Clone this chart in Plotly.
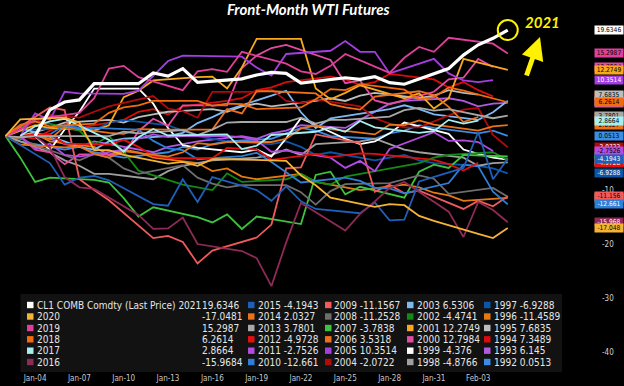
import pandas as pd
import plotly.graph_objects as go

# ---------------- data ----------------
years = [2021, 2020, 2019, 2018, 2017, 2016, 2015, 2014, 2013, 2012, 2011, 2010,
         2009, 2008, 2007, 2006, 2005, 2004, 2003, 2002, 2001, 2000, 1999, 1998,
         1997, 1996, 1995, 1994, 1993, 1992]
first_label = "CL1 COMB Comdty (Last Price) 2021"
colors = ["#FFFFFF", "#F5B335", "#E0409B", "#F26B0F", "#A8EEEE", "#8E2A55",
          "#1F5FB8", "#E8731A", "#A8A8A8", "#E01010", "#B44BE1", "#2D7FD8",
          "#F05A5A", "#6E6E6E", "#3CC43C", "#EF6F1A", "#A43EE0", "#B00A0A",
          "#7DB8F2", "#138A13", "#F8A81E", "#E44BA3", "#FFFFFF", "#A0A0A0",
          "#0A56A8", "#E67A10", "#BDBDBD", "#D80C0C", "#B05AE0", "#3A8CE4"]

# % change vs first trading day, one value per weekday from Jan-02 to Feb-05 of each year
v2021 = [0, 4.85, 6.3, 6.7, 9.7, 9.7, 11.7, 11.1, 12.5, 9.95, 10.6, 11.3, 11.8, 11.6, 9.8,
         10.8, 10.5, 11.0, 9.9, 9.6, 12.5, 15.0, 16.9, 18.1, 19.6346]
v2020 = [0, 3.1, 3.4, 2.5, -2.6, -2.6, -3.5, -5.1, -4.8, -5.5, -4.3, -4.3, -4.5, -4.6, -7.3,
         -9.1, -11.4, -13.1, -12.6, -12.8, -14.8, -15.7, -18.1, -18.9, -17.0481]
v2019 = [0, 1.2, 3.1, 4.3, 7.0, 12.5, 13.0, 10.9, 8.5, 12.0, 12.4, 11.9, 15.6, 13.4, 12.0,
         11.5, 13.0, 15.2, 11.7, 14.5, 16.5, 15.6, 18.2, 17.1, 15.2987]
v2018 = [0, 2.1, 2.7, 1.8, 2.3, 4.3, 5.3, 5.7, 6.5, 6.5, 5.6, 6.0, 5.9, 5.0, 5.3,
         6.8, 8.7, 8.5, 9.6, 8.6, 6.8, 7.2, 9.0, 8.4, 6.2614]
v2017 = [None, 0, 1.8, 2.7, 3.2, -0.7, -2.9, -0.2, 1.3, 0.1, 0.2, 0.3, -2.4, -1.8, 0.2,
         0.8, 1.6, 0.8, 2.8, 1.6, 0.6, 0.9, 3.0, 2.3, 2.8664]
v2016 = [0, -2.1, -7.6, -9.5, -9.8, -14.6, -17.2, -17.1, -15.1, -20.0, -21.3, -22.6, -27.8, -19.7, -12.4,
         -17.5, -14.4, -12.1, -9.6, -8.5, -14.0, -18.7, -12.2, -13.7, -15.9684]
v2015 = [0, -5.0, -9.0, -7.7, -7.4, -8.2, -12.6, -12.9, -8.0, -12.2, -7.6, -10.0, -12.0, -9.3, -12.1,
         -13.5, -14.3, -12.3, -15.6, -15.5, -8.4, -5.9, 0.7, -8.0, -4.1943]
v2014 = [0, -1.6, -2.1, -1.9, -3.3, -4.0, -2.8, -3.8, -3.0, -1.3, -1.6, -1.1, -1.1, -0.5, 1.4,
         2.0, 1.3, 0.3, 2.1, 2.0, 2.9, 2.1, 1.0, 1.8, 2.0327]
v2013 = [0, -0.2, 0.0, 0.1, 0.0, 0.0, 0.8, 0.5, 1.1, 0.2, 1.2, 2.5, 2.6, 2.6, 3.4,
         2.3, 3.0, 3.0, 3.6, 4.8, 5.2, 4.7, 5.0, 3.3, 3.7801]
v2012 = [None, 0, 0.3, 0.3, -1.4, -1.6, -0.7, -2.0, -3.7, -4.1, -4.1, -2.2, -2.3, -2.5, -4.4,
         -3.3, -3.9, -3.5, -3.2, -3.3, -4.1, -4.4, -5.2, -6.4, -4.9728]
v2011 = [0, -2.4, -1.4, -3.5, -3.8, -2.5, -0.5, 0.3, -0.2, 0.0, 0.0, -0.2, -0.8, -2.9, -2.7,
         -4.0, -5.9, -4.6, -6.5, -2.4, 0.7, -0.9, -0.8, -1.1, -2.7526]
v2010 = [0, 0.3, 2.0, 1.4, 1.5, 1.2, -0.9, -2.3, -2.6, -4.3, -3.7, -3.1, -4.8, -6.7, -8.6,
         -7.7, -8.3, -9.6, -9.7, -10.6, -8.7, -5.3, -5.6, -10.3, -12.661]
v2009 = [0, 5.3, 4.8, -8.0, -10.0, -11.9, -18.9, -18.5, -19.6, -23.6, -21.2, -18.8, -16.4, -6.0, -5.8,
         0.3, -1.3, -10.3, -9.0, -10.6, -10.1, -13.5, -12.0, -13.0, -11.1567]
v2008 = [0, -0.4, -1.7, -4.5, -3.3, -4.0, -6.0, -7.0, -5.4, -7.7, -8.8, -9.5, -9.1, -9.1, -10.4,
         -12.7, -10.2, -8.9, -8.7, -8.0, -7.3, -7.9, -10.7, -9.6, -11.2528]
v2007 = [0, -4.0, -8.5, -7.7, -8.1, -8.6, -11.5, -14.9, -13.2, -15.0, -16.0, -14.5, -17.2, -14.9, -16.3,
         -7.2, -6.6, -10.8, -9.4, -11.4, -6.6, -5.3, -5.9, -3.5, -3.7838]
v2006 = [None, 0, 0.4, -0.6, 1.7, 0.6, 0.4, 1.3, 1.2, 1.2, 1.2, 5.0, 4.2, 8.3, 8.3,
         7.9, 5.9, 5.3, 4.9, 7.3, 8.3, 7.6, 5.4, 2.6, 3.5318]
v2005 = [0, 4.2, 3.0, 8.2, 7.9, 7.8, 8.4, 11.2, 13.9, 14.9, 14.7, 14.7, 12.7, 11.2, 15.2,
         15.8, 17.6, 15.6, 15.6, 11.6, 14.3, 11.6, 10.3, 10.0, 10.3514]
v2004 = [0, 3.9, 3.6, 3.4, 4.5, 5.5, 7.4, 5.1, 4.6, 3.4, 8.2, 8.2, 8.7, 6.5, 6.1,
         6.8, 5.5, 3.3, 2.3, 1.6, 1.6, 4.9, 5.2, 0.2, -2.0722]
v2003 = [0, 1.5, -1.0, -2.0, -2.5, -1.0, -0.5, 0.0, 0.6, 2.4, 3.5, 4.8, 7.5, 8.4, 4.4,
         1.5, 3.3, 4.5, 5.0, 5.7, 5.0, 4.0, 3.0, 4.4, 6.5306]
v2002 = [0, 1.7, 2.9, 1.0, -1.6, 0.0, -2.9, -6.4, -9.0, -9.5, -10.0, -6.9, -8.5, -8.0, -7.0,
         -8.5, -9.0, -7.5, -6.0, -5.5, -5.0, -4.0, -3.5, -3.0, -4.4741]
v2001 = [0, 1.0, 2.0, 1.5, 1.0, 2.0, 7.2, 8.4, 10.3, 10.9, 11.0, 8.8, 12.7, 18.0, 18.0,
         8.8, 6.8, 8.0, 9.4, 7.0, 7.9, 5.1, 7.0, 14.3, 12.2749]
v2000 = [0, -2.5, -3.0, -5.2, -3.4, -3.4, 0.9, 3.2, 1.9, 5.7, 5.7, 12.6, 14.9, 16.3, 16.9,
         14.1, 9.8, 10.3, 6.6, 5.9, 8.2, 10.5, 10.8, 14.3, 12.7984]
v1999 = [0, -2.6, 1.2, 4.5, 8.8, 8.8, 6.0, 1.5, -1.7, -2.2, -3.0, -2.5, -3.8, -0.4, 3.3,
         -0.5, -1.5, -1.0, 0.5, 2.5, 0.4, -2.5, -3.3, -4.0, -4.376]
v1998 = [0, -3.0, -4.5, -5.5, -7.0, -7.0, -8.0, -6.5, -5.5, -5.0, -4.5, -4.0, -3.5, -2.5, -3.5,
         -1.5, -1.0, -0.5, -1.5, -2.5, -3.0, -4.0, -5.5, -5.0, -4.8766]
v1997 = [0, 1.0, 1.5, 2.0, 1.0, 2.5, 3.0, 2.0, 1.0, 0.0, -0.5, -1.0, -1.5, -1.0, -2.0,
         -3.5, -3.0, -4.5, -4.0, -3.5, -4.5, -5.0, -5.5, -6.0, -6.9288]
v1996 = [0, -0.5, 0.5, -1.0, -2.0, -3.5, -2.5, -3.0, -4.0, -5.0, -6.5, -6.0, -7.5, -8.0, -7.0,
         -8.5, -9.0, -9.5, -10.0, -9.0, -9.5, -10.5, -11.0, -12.0, -11.4589]
v1995 = [None, 0, 0.8, 1.5, 2.5, 3.0, 2.5, 3.5, 4.0, 4.5, 5.0, 4.5, 5.5, 6.0, 5.5,
         6.5, 7.0, 6.5, 7.5, 8.0, 7.0, 7.5, 8.5, 8.0, 7.6835]
v1994 = [0, -0.5, 1.0, 2.0, 1.5, 3.0, 4.5, 5.0, 4.0, 5.5, 6.5, 7.0, 8.5, 9.0, 10.0,
         11.0, 10.5, 9.5, 10.0, 11.5, 10.5, 9.0, 10.0, 8.5, 7.3489]
v1993 = [0, -0.5, -1.5, -2.0, -1.0, -2.5, -3.0, -2.0, -1.5, -1.0, 0.0, -0.5, 0.5, 1.0, 2.0,
         1.5, 3.0, 4.5, 6.0, 6.5, 7.0, 6.5, 5.5, 6.0, 6.145]
v1992 = [0, -1.0, -2.5, -2.0, -3.0, -3.5, -4.0, -3.0, -2.0, -2.5, -1.5, -1.0, -0.5, 0.5, 1.5,
         1.0, 0.0, -0.5, 0.5, 1.0, 2.0, 1.5, 0.5, 1.0, 0.0513]

series_values = [v2021, v2020, v2019, v2018, v2017, v2016, v2015, v2014, v2013, v2012,
                 v2011, v2010, v2009, v2008, v2007, v2006, v2005, v2004, v2003, v2002,
                 v2001, v2000, v1999, v1998, v1997, v1996, v1995, v1994, v1993, v1992]

tick_dates = ["2021-01-04", "2021-01-07", "2021-01-10", "2021-01-13", "2021-01-16",
              "2021-01-19", "2021-01-22", "2021-01-25", "2021-01-28", "2021-01-31",
              "2021-02-03"]
tick_labels = ["Jan-04", "Jan-07", "Jan-10", "Jan-13", "Jan-16", "Jan-19", "Jan-22",
               "Jan-25", "Jan-28", "Jan-31", "Feb-03"]
y_ticks = [-40, -30, -20, -10]

# ---------------- helpers ----------------
PLOT_W, PLOT_H = 597, 372
NARROW = "Liberation Sans Narrow, DejaVu Sans Condensed, sans-serif"


def px(x):
    return x / PLOT_W


def py(y):
    return 1 - y / PLOT_H


def season_dates(year):
    d = pd.bdate_range(f"{year}-01-02", f"{year}-02-05")
    return [t.replace(year=2021) for t in d]


def fmt(v):
    return f"{v:.4f}".rstrip("0").rstrip(".")


def text_col(hexc):
    r, g, b = int(hexc[1:3], 16), int(hexc[3:5], 16), int(hexc[5:7], 16)
    lum = (0.299 * r + 0.587 * g + 0.114 * b) / 255
    return "#000000" if lum > 0.46 else "#FFFFFF"


fig = go.Figure()

# lines: oldest first, 2021 on top
for yr, col, vals in reversed(list(zip(years, colors, series_values))):
    dates = season_dates(yr)
    fig.add_trace(go.Scatter(
        x=dates, y=vals, mode="lines",
        line=dict(color=col, width=3.2 if yr == 2021 else 1.8),
        showlegend=False, hoverinfo="skip"))

annotations = []
shapes = []

# right-hand y tick labels (placed on the y scale; value tags drawn over them)
for t in y_ticks:
    annotations.append(dict(x=1.0, xref="paper", y=t, yref="y", xanchor="left",
                            yanchor="middle", xshift=3, text=str(t), showarrow=False,
                            font=dict(size=8, color="#D0D0D0", family=NARROW)))

# right-hand value tags
tag_order = [2000, 1994, 2003, 1993, 2006, 2014, 2004, 1999, 2002, 1998, 2007, 1996,
             2008, 1995, 2013, 2012, 2016,
             2021, 2019, 2001, 2005, 2018, 2017, 1992, 2011, 2015, 1997, 2009, 2010, 2020]
for yr in tag_order:
    i = years.index(yr)
    last = series_values[i][-1]
    annotations.append(dict(
        x=1.0, xref="paper", y=last, yref="y", xanchor="left", yanchor="middle",
        xshift=-3, text=fmt(last)[:7], showarrow=False, width=28, height=8,
        bgcolor=colors[i], borderpad=0, align="center",
        font=dict(size=6.6, color=text_col(colors[i]), family=NARROW)))

# title and callouts
annotations.append(dict(x=px(308), y=py(9), xref="paper", yref="paper", showarrow=False,
                        text="Front-Month WTI Futures", xanchor="center", yanchor="middle",
                        font=dict(family="Lato, Open Sans, sans-serif", size=15, color="white",
                                  weight="bold", style="italic")))
annotations.append(dict(x=px(542), y=py(22), xref="paper", yref="paper", showarrow=False,
                        text="2021", xanchor="center", yanchor="middle",
                        font=dict(family="Lato, Open Sans, sans-serif", size=15, color="#FFF200",
                                  weight="bold", style="italic")))
annotations.append(dict(x=px(540), y=py(37), xref="paper", yref="paper", text="",
                        showarrow=True, ax=-14, ay=40, arrowhead=2, arrowsize=0.9,
                        arrowwidth=5, arrowcolor="#FFF200", standoff=0))

# circle around 2021 last point
shapes.append(dict(type="circle", xref="x", yref="y", xsizemode="pixel", ysizemode="pixel",
                   xanchor=season_dates(2021)[-1], yanchor=v2021[-1],
                   x0=-10, x1=10, y0=-10, y1=10, line=dict(color="#FFF200", width=2)))

# custom legend block
shapes.append(dict(type="rect", xref="paper", yref="paper", x0=px(20.5), x1=px(562),
                   y0=py(372), y1=py(294), fillcolor="#121212", line=dict(width=0),
                   layer="above"))
leg_font = dict(family=NARROW, size=10, color="#E6E6E6")
col_x = [27, 248, 325, 407, 484]
row_y = [305, 316.5, 328, 339.3, 350.7, 362]
for c in range(5):
    for r in range(6):
        i = c * 6 + r
        yr, col, last = years[i], colors[i], series_values[i][-1]
        x0 = col_x[c]
        yc = row_y[r]
        shapes.append(dict(type="rect", xref="paper", yref="paper",
                           x0=px(x0), x1=px(x0 + 6.5), y0=py(yc + 3.2), y1=py(yc - 3.2),
                           fillcolor=col, line=dict(width=0), layer="above"))
        if c == 0:
            label = first_label if i == 0 else str(yr)
            annotations.append(dict(x=px(x0 + 7.5), y=py(yc), xref="paper", yref="paper",
                                    text=label, showarrow=False, xanchor="left",
                                    yanchor="middle", font=leg_font))
            annotations.append(dict(x=px(200), y=py(yc), xref="paper", yref="paper",
                                    text=fmt(last), showarrow=False, xanchor="left",
                                    yanchor="middle", font=leg_font))
        else:
            annotations.append(dict(x=px(x0 + 7.5), y=py(yc), xref="paper", yref="paper",
                                    text=f"{yr} {fmt(last)}", showarrow=False,
                                    xanchor="left", yanchor="middle", font=leg_font))

fig.update_layout(
    width=624, height=386,
    margin=dict(l=0, r=27, t=0, b=14),
    paper_bgcolor="black", plot_bgcolor="black",
    showlegend=False,
    annotations=annotations, shapes=shapes,
    xaxis=dict(type="date", range=["2021-01-01 15:00", "2021-02-11 01:00"],
               tickvals=tick_dates, ticktext=tick_labels, showgrid=False,
               zeroline=False, showline=False, ticks="", automargin=False,
               tickfont=dict(size=8, color="#C8C8C8", family=NARROW)),
    yaxis=dict(side="right", range=[-43.7, 25.2], showticklabels=False, showgrid=False,
               zeroline=False, showline=False, ticks="", automargin=False),
)

fig.write_html("out.html", config={"displayModeBar": False},
               post_script="document.body.style.margin='0';document.body.style.background='black';")
